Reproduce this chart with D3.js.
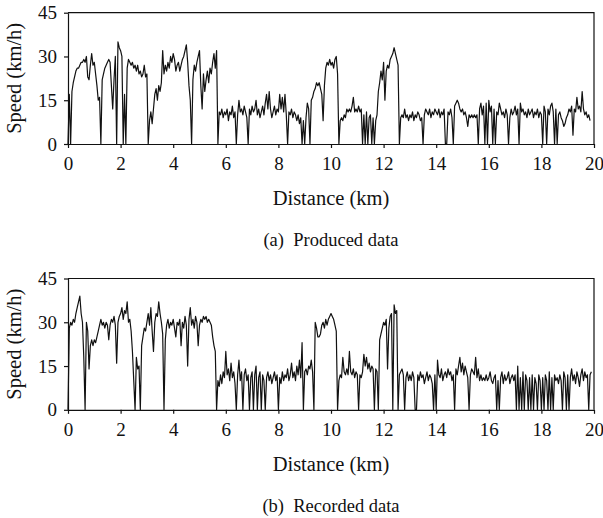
<!DOCTYPE html>
<html>
<head>
<meta charset="utf-8">
<script src="https://cdn.jsdelivr.net/npm/d3@7"></script>
<style>
  body { margin: 0; background: #fff; }
  svg { display: block; }
</style>
</head>
<body>
<svg></svg>
<script>
// speed samples (km/h), one every 0.05 km
const stepKm = 0.05;

const producedSpeed = [
  0,17,0,18,21,23,25,26,26,27,28,28,29,28,30,23,22,27,31,27,
  28,24,20,15,16,0,22,24,26,27,28,29,28,20,12,22,30,0,35,33,
  32,30,0,17,0,26,29,28,27,28,26,27,25,27,24,25,23,24,27,23,
  24,0,8,11,7,12,17,19,15,20,18,21,32,24,27,25,28,26,30,28,
  31,29,25,27,28,25,27,29,30,32,34,28,20,15,0,22,27,25,28,30,
  32,20,12,24,18,22,25,21,26,24,28,31,26,32,0,11,10,12,9,11,
  10,12,8,11,10,13,9,11,0,10,15,11,12,10,13,11,9,0,12,10,
  13,11,12,15,10,12,9,11,13,10,14,17,12,18,12,9,11,13,10,12,
  11,17,12,16,11,17,10,0,11,10,12,9,11,10,8,10,7,9,0,8,
  0,9,14,12,0,15,16,18,19,21,20,21,19,17,8,20,26,28,27,29,
  27,28,26,29,30,24,0,8,9,8,10,9,12,11,12,11,13,16,11,12,
  11,13,11,12,0,10,0,11,0,9,10,0,9,0,8,10,18,21,25,22,
  28,15,25,27,26,29,30,31,33,31,29,27,0,9,10,9,12,9,10,8,
  10,9,11,8,10,9,11,10,8,9,0,10,12,11,10,12,9,11,10,12,
  11,10,12,9,11,10,12,0,0,11,10,12,9,0,13,14,15,14,12,11,
  12,10,11,9,6,10,9,10,9,10,9,10,0,12,14,10,13,0,14,0,
  15,11,13,0,12,0,11,10,14,12,10,11,9,12,10,0,9,12,10,11,
  13,10,12,0,14,11,12,10,11,9,12,10,11,12,9,11,10,12,9,11,
  10,0,13,11,0,12,10,13,14,11,0,12,0,10,11,9,8,6,7,9,
  10,12,11,13,3,12,11,16,12,13,11,18,12,10,11,9,10,8
];

const recordedSpeed = [
  0,28,30,29,31,30,33,35,37,39,33,30,18,0,30,27,14,22,24,22,
  24,23,25,27,29,31,29,30,28,30,29,24,29,31,30,32,29,16,30,32,
  33,35,31,34,33,37,30,31,27,20,10,0,18,14,15,0,22,25,28,27,
  30,33,29,35,27,20,30,33,32,37,33,30,26,0,24,29,31,28,30,29,
  31,28,25,30,29,31,22,30,28,32,29,15,31,35,29,31,28,32,30,22,
  29,31,30,32,31,32,30,31,30,29,25,22,20,0,10,8,12,9,13,11,
  20,12,14,10,16,11,13,9,0,12,17,10,13,0,12,14,10,12,0,11,
  13,0,12,15,0,11,13,0,12,10,0,11,13,10,12,9,11,13,10,12,
  0,11,9,13,10,12,11,14,10,12,16,11,13,10,15,12,17,11,23,0,
  13,14,12,15,14,17,13,0,30,28,25,25,26,29,30,28,31,29,31,32,
  33,32,31,29,27,0,10,12,11,18,13,12,14,12,20,13,12,14,11,13,
  12,0,12,11,13,19,15,18,14,16,13,15,14,0,14,13,0,24,26,28,
  30,29,31,14,28,32,33,0,36,33,34,0,12,13,14,12,0,11,13,10,
  12,10,13,11,0,0,12,10,13,11,12,9,11,13,10,12,11,9,0,12,
  0,17,12,11,14,10,12,13,11,14,12,13,10,12,0,14,12,15,18,13,
  16,12,15,13,11,0,12,14,13,12,18,11,14,10,12,10,11,10,12,10,
  11,13,10,9,11,12,0,10,0,11,13,9,12,10,11,13,9,11,12,10,
  12,0,15,0,11,0,13,0,12,10,0,11,0,12,0,11,9,0,12,10,
  0,11,0,12,10,0,13,0,11,0,12,10,11,9,12,10,0,13,11,0,
  12,0,11,14,10,12,9,13,11,8,12,14,10,13,11,12,0,12,13
];

const xTicks = [0, 2, 4, 6, 8, 10, 12, 14, 16, 18, 20];
const yTicks = [0, 15, 30, 45];
const captions = ["(a)  Produced data", "(b)  Recorded data"];
const xTitle = "Distance (km)";
const yTitle = "Speed (km/h)";

const serif = "'Liberation Serif', 'DejaVu Serif', serif";
const width = 603, height = 518;
const svg = d3.select('svg').attr('width', width).attr('height', height);

const left = 68, right = 594, plotH = 131.3;
const panels = [
  {top: 12.7, data: producedSpeed, caption: captions[0]},
  {top: 278.5, data: recordedSpeed, caption: captions[1]}
];

const x = d3.scaleLinear().domain([0, 20]).range([left, right]);

panels.forEach(p => {
  const bottom = p.top + plotH;
  const y = d3.scaleLinear().domain([0, 45]).range([bottom, p.top]);
  const g = svg.append('g');

  // trace
  const line = d3.line()
    .x((d, i) => x(i * stepKm))
    .y(d => y(d));
  g.append('path')
    .datum(p.data)
    .attr('d', line)
    .attr('fill', 'none')
    .attr('stroke', '#111')
    .attr('stroke-width', 1.2)
    .attr('stroke-linejoin', 'round');

  // frame top + right
  g.append('path')
    .attr('d', `M${left},${p.top}H${right}V${bottom}`)
    .attr('fill', 'none')
    .attr('stroke', '#111')
    .attr('stroke-width', 1.2);

  const xAxis = g.append('g')
    .attr('transform', `translate(0,${bottom})`)
    .call(d3.axisBottom(x).tickValues(xTicks).tickSize(4).tickSizeOuter(0).tickPadding(9));
  const yAxis = g.append('g')
    .attr('transform', `translate(${left},0)`)
    .call(d3.axisLeft(y).tickValues(yTicks).tickSize(4).tickSizeOuter(0).tickPadding(7));

  [xAxis, yAxis].forEach(a => {
    a.select('.domain').attr('stroke', '#111').attr('stroke-width', 1.2);
    a.selectAll('line').attr('stroke', '#111').attr('stroke-width', 1.2);
    a.selectAll('text')
      .style('font-family', serif)
      .style('font-size', '19px')
      .attr('fill', '#111');
  });

  g.append('text')
    .attr('x', (left + right) / 2)
    .attr('y', bottom + 61)
    .attr('text-anchor', 'middle')
    .style('font-family', serif)
    .style('font-size', '20.5px')
    .attr('fill', '#111')
    .text(xTitle);

  g.append('text')
    .attr('transform', `translate(21,${(p.top + bottom) / 2}) rotate(-90)`)
    .attr('text-anchor', 'middle')
    .style('font-family', serif)
    .style('font-size', '20.5px')
    .attr('fill', '#111')
    .text(yTitle);

  g.append('text')
    .attr('x', (left + right) / 2)
    .attr('y', bottom + 102)
    .attr('text-anchor', 'middle')
    .style('font-family', serif)
    .style('font-size', '18.5px')
    .style('white-space', 'pre')
    .attr('fill', '#111')
    .text(p.caption);
});
</script>
</body>
</html>
